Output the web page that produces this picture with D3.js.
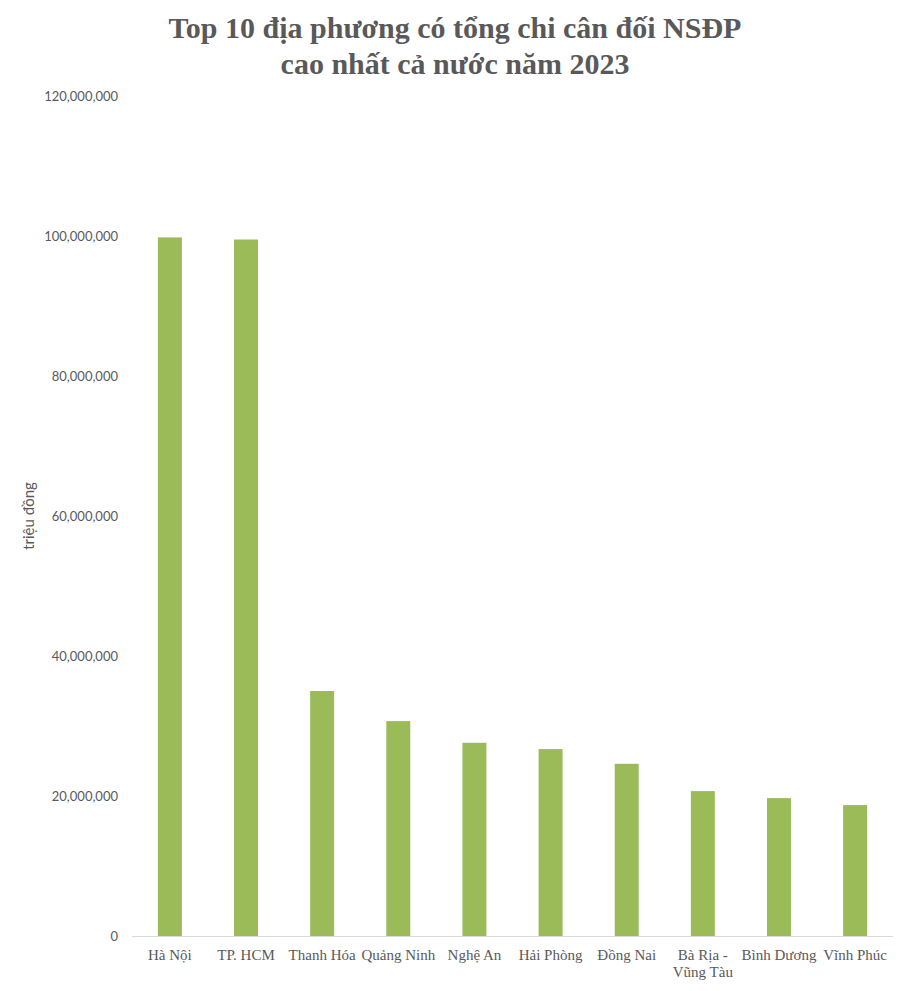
<!DOCTYPE html>
<html><head><meta charset="utf-8">
<script src="https://cdn.jsdelivr.net/npm/d3@7"></script>
<style>body{margin:0;background:#fff}</style>
</head><body>
<svg id="chart" width="911" height="991"></svg>
<script>
const categories = ["Hà Nội","TP. HCM","Thanh Hóa","Quảng Ninh","Nghệ An","Hải Phòng","Đồng Nai","Bà Rịa - Vũng Tàu","Bình Dương","Vĩnh Phúc"];
const values = [99800000, 99500000, 35000000, 30700000, 27600000, 26700000, 24600000, 20700000, 19700000, 18700000];
const yTicks = [0, 20000000, 40000000, 60000000, 80000000, 100000000, 120000000];
const titleLines = ["Top 10 địa phương có tổng chi cân đối NSĐP", "cao nhất cả nước năm 2023"];
const yTitle = "triệu đồng";

const svg = d3.select("#chart");
const margin = {left:132, right:18, top:96, bottom:55};
const W = 911, H = 991;
const x = d3.scaleBand().domain(categories).range([margin.left, W - margin.right]).paddingInner(0.685).paddingOuter(0.34);
const y = d3.scaleLinear().domain([0, 120000000]).range([936, 96]);

svg.append("g").selectAll("text").data(titleLines).join("text")
  .attr("x", 455).attr("y", (d,i)=>38 + i*36)
  .attr("text-anchor","middle")
  .attr("font-family","'Liberation Serif','Times New Roman',serif")
  .attr("font-weight","bold").attr("font-size","30px").attr("fill","#595959")
  .text(d=>d);

// y axis labels
const yAxis = d3.axisLeft(y).tickValues(yTicks).tickSize(0).tickPadding(0)
  .tickFormat(d => d3.format(",")(d));
const gy = svg.append("g").attr("transform","translate(118,0)").call(yAxis);
gy.select(".domain").remove();
gy.selectAll("text").attr("font-family","Lato, 'Open Sans', sans-serif").attr("font-size","13px").attr("fill","#595959");

// bars
svg.append("g").selectAll("rect").data(values).join("rect")
  .attr("x", (d,i)=>x(categories[i])).attr("width", x.bandwidth())
  .attr("y", d=>y(d)).attr("height", d=>y(0)-y(d))
  .attr("fill","#9bbb59");

// x axis
const xAxis = d3.axisBottom(x).tickSize(0).tickPadding(0);
const gx = svg.append("g").attr("transform",`translate(0,${y(0)})`).call(xAxis);
gx.select(".domain").attr("stroke","#d9d9d9").attr("stroke-width",1).attr("d",`M${margin.left},0.5H${W-margin.right}`);
gx.selectAll("text").attr("font-family","'Liberation Serif','Times New Roman',serif").attr("font-size","15px").attr("fill","#595959")
  .each(function(d){
    const t = d3.select(this); t.text(null).attr("y", 0).attr("dy", null);
    const lines = d === "Bà Rịa - Vũng Tàu" ? ["Bà Rịa -", "Vũng Tàu"] : [d];
    lines.forEach((l,i)=> t.append("tspan").attr("x",0).attr("y", 24 + i*17).text(l));
  });

// y title
svg.append("text").attr("transform","translate(34,516) rotate(-90)")
  .attr("text-anchor","middle").attr("font-family","Lato, 'Open Sans', sans-serif")
  .attr("font-size","15px").attr("fill","#595959").text(yTitle);
</script>
</body></html>
